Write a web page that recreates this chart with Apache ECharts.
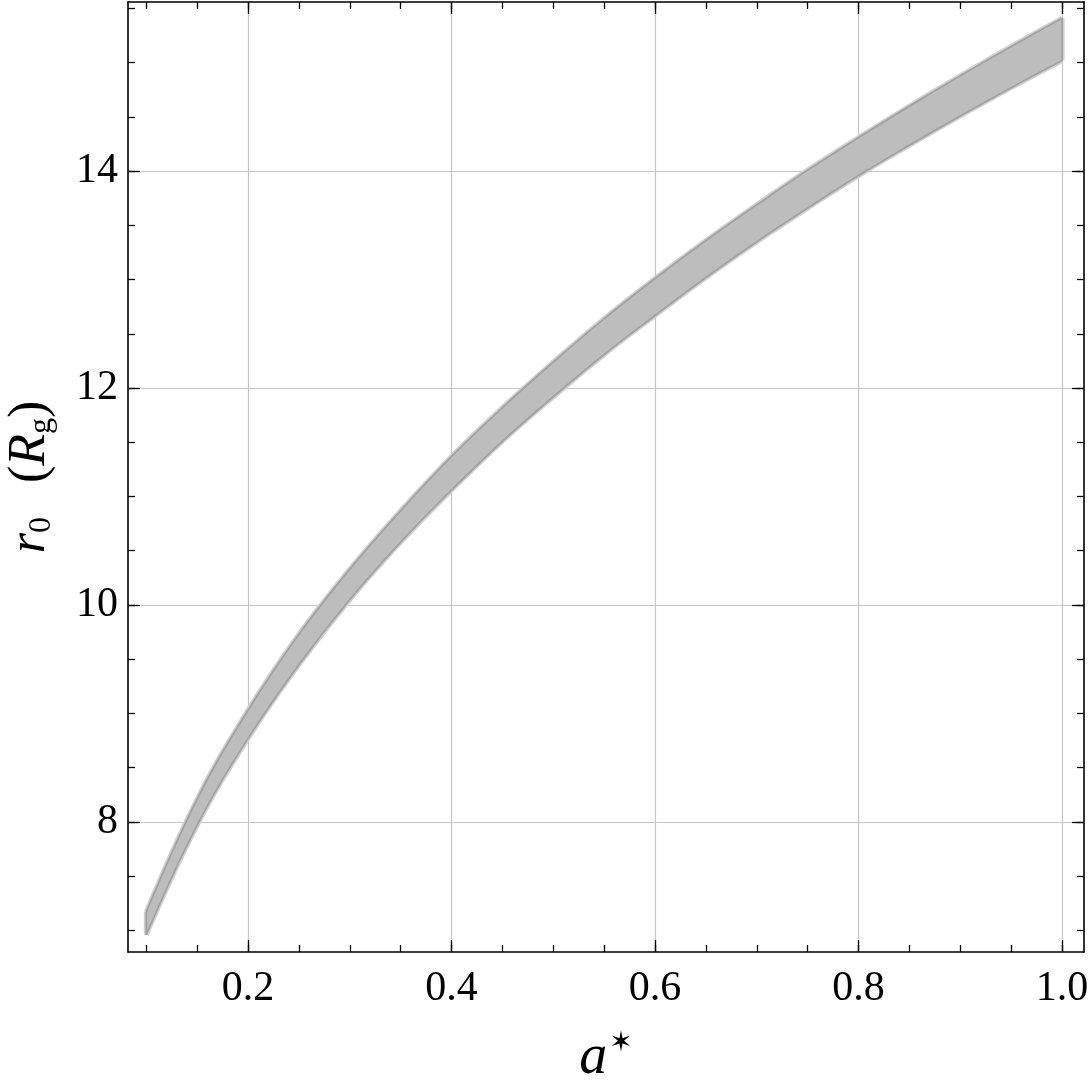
<!DOCTYPE html>
<html>
<head>
<meta charset="utf-8">
<script src="https://cdn.jsdelivr.net/npm/echarts@6/dist/echarts.min.js"></script>
<style>
  html, body { margin: 0; padding: 0; background: #fff; }
  #chart { width: 1090px; height: 1084px; }
</style>
</head>
<body>
<div id="chart"></div>
<script>
// spin values a* and the r0 band (in Rg)
var aStar = [0.1, 0.15, 0.2, 0.25, 0.3, 0.35, 0.4, 0.45, 0.5, 0.55, 0.6, 0.65, 0.7, 0.75, 0.8, 0.85, 0.9, 0.95, 1.0];
var r0Upper = [7.17, 8.21, 9.03, 9.73, 10.33, 10.87, 11.37, 11.82, 12.24, 12.64, 13.01, 13.36, 13.69, 14.01, 14.31, 14.60, 14.88, 15.15, 15.41];
var r0Lower = [6.96, 7.97, 8.77, 9.45, 10.05, 10.58, 11.06, 11.51, 11.92, 12.31, 12.67, 13.02, 13.35, 13.66, 13.96, 14.24, 14.51, 14.77, 15.02];

// tick positions
var xMajorTicks = [0.2, 0.4, 0.6, 0.8, 1.0];
var xMinorTicks = [0.1, 0.15, 0.2, 0.25, 0.3, 0.35, 0.4, 0.45, 0.5, 0.55, 0.6, 0.65, 0.7, 0.75, 0.8, 0.85, 0.9, 0.95, 1.0];
var yMajorTicks = [8, 10, 12, 14];
var yMinorTicks = [7, 7.5, 8, 8.5, 9, 9.5, 10, 10.5, 11, 11.5, 12, 12.5, 13, 13.5, 14, 14.5, 15, 15.5];

var xMin = 0.082, xMax = 1.0215;
var yMin = 6.8, yMax = 15.56;

// [r, a] pairs: y dimension first so the stack goes on r
var pairsRA = function(xs, ys) {
  return xs.map(function(x, i) { return [ys[i], x]; });
};
var bandWidth = r0Upper.map(function(v, i) { return +(v - r0Lower[i]).toFixed(3); });
var last = aStar.length - 1;

var serif = 'Liberation Serif';

var makeX = function(pos, ticks, len, showLine, showLabel, showGrid) {
  return {
    type: 'value', position: pos, min: xMin, max: xMax,
    axisLine: { show: showLine, onZero: false, lineStyle: { color: '#000', width: 1.6 } },
    axisTick: { show: true, inside: true, length: len, customValues: ticks, lineStyle: { color: '#000', width: 1.3 } },
    axisLabel: { show: showLabel, customValues: ticks, margin: 16, color: '#000', fontFamily: serif, fontSize: 42,
      formatter: function(v) { return v.toFixed(1); } },
    splitLine: { show: showGrid, lineStyle: { color: '#c6c6c6', width: 1.2 } }
  };
};
var makeY = function(pos, ticks, len, showLine, showLabel, showGrid) {
  return {
    type: 'value', position: pos, min: yMin, max: yMax,
    axisLine: { show: showLine, onZero: false, lineStyle: { color: '#000', width: 1.6 } },
    axisTick: { show: true, inside: true, length: len, customValues: ticks, lineStyle: { color: '#000', width: 1.3 } },
    axisLabel: { show: showLabel, customValues: ticks, margin: 10, color: '#000', fontFamily: serif, fontSize: 42 },
    splitLine: { show: showGrid, lineStyle: { color: '#c6c6c6', width: 1.2 } }
  };
};

var xBottom = makeX('bottom', xMajorTicks, 12, true, true, true);
xBottom.name = '{i|a}{s|\u2736}';
xBottom.nameLocation = 'middle';
xBottom.nameGap = 78;
xBottom.nameTextStyle = {
  rich: {
    i: { fontFamily: serif, fontStyle: 'italic', fontSize: 56, color: '#000', lineHeight: 56, verticalAlign: 'middle' },
    s: { fontFamily: 'DejaVu Sans', fontWeight: 'bold', fontSize: 28, color: '#000', lineHeight: 26, verticalAlign: 'top', padding: [0, 0, 0, 2] }
  }
};

var yLeft = makeY('left', yMajorTicks, 12, true, true, true);
yLeft.name = '{i|r}{s|0}{g| }{p|(}{i|R}{s|g}{p|)}';
yLeft.nameLocation = 'middle';
yLeft.nameRotate = 90;
yLeft.nameGap = 70;
yLeft.nameTextStyle = {
  rich: {
    i: { fontFamily: serif, fontStyle: 'italic', fontSize: 52, color: '#000', lineHeight: 56, verticalAlign: 'middle' },
    s: { fontFamily: serif, fontSize: 32, color: '#000', lineHeight: 30, verticalAlign: 'bottom' },
    p: { fontFamily: serif, fontSize: 52, color: '#000', lineHeight: 56, verticalAlign: 'middle' },
    g: { fontFamily: serif, fontSize: 52, width: 34, lineHeight: 56 }
  }
};

var edge = function(xs, ys, color, width, z) {
  return {
    type: 'line', data: pairsRA(xs, ys), encode: { x: 1, y: 0 },
    smooth: 0.4, showSymbol: false, symbol: 'none', silent: true, z: z,
    lineStyle: { color: color, width: width }
  };
};
var endLine = function(i, color, width, z) {
  return edge([aStar[i], aStar[i]], [r0Lower[i], r0Upper[i]], color, width, z);
};

var myChart = echarts.init(document.getElementById('chart'), null, { renderer: 'canvas' });
var option = {
  animation: false,
  backgroundColor: '#fff',
  grid: { left: 128, right: 6, top: 2, bottom: 132, containLabel: false, outerBoundsMode: 'none' },
  xAxis: [
    xBottom,
    makeX('bottom', xMinorTicks, 7, false, false, false),
    makeX('top', xMajorTicks, 12, true, false, false),
    makeX('top', xMinorTicks, 7, false, false, false)
  ],
  yAxis: [
    yLeft,
    makeY('left', yMinorTicks, 7, false, false, false),
    makeY('right', yMajorTicks, 12, true, false, false),
    makeY('right', yMinorTicks, 7, false, false, false)
  ],
  series: [
    // light halo around the band
    edge(aStar, r0Upper, '#d0d0d0', 5, 3),
    edge(aStar, r0Lower, '#d0d0d0', 5, 3),
    endLine(0, '#d0d0d0', 5, 3),
    endLine(last, '#d0d0d0', 5, 3),
    // band fill: lower curve + width stacked on top
    {
      type: 'line', data: pairsRA(aStar, r0Lower), encode: { x: 1, y: 0 }, stack: 'band', smooth: 0.4,
      showSymbol: false, symbol: 'none', silent: true, z: 4,
      lineStyle: { opacity: 0 }
    },
    {
      type: 'line', data: pairsRA(aStar, bandWidth), encode: { x: 1, y: 0 }, stack: 'band', smooth: 0.4,
      showSymbol: false, symbol: 'none', silent: true, z: 4,
      lineStyle: { opacity: 0 },
      areaStyle: { color: '#bdbdbd', opacity: 1 }
    },
    // darker inner edge
    edge(aStar, r0Upper, '#a2a2a2', 1.8, 5),
    edge(aStar, r0Lower, '#a2a2a2', 1.8, 5),
    endLine(0, '#a2a2a2', 1.8, 5),
    endLine(last, '#a2a2a2', 1.8, 5)
  ]
};
myChart.setOption(option);
</script>
</body>
</html>
